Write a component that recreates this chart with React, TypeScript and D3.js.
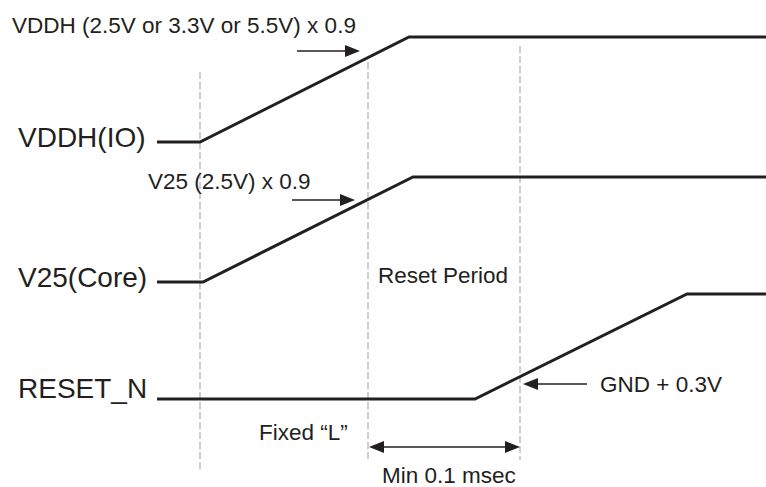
import * as d3 from "d3";

// Signal rows and their waveforms (time units, level 0 = low / 1 = high)
const signalNames = ["VDDH(IO)", "V25(Core)", "RESET_N"];
const rowLow = [142, 282, 399];
const waveforms: [number, number][][] = [
  [[0, 0], [43, 0], [252, 1], [609, 1]],
  [[0, 0], [46, 0], [256, 1], [609, 1]],
  [[0, 0], [318, 0], [530, 1], [609, 1]],
];

// dashed timing markers: [time, top, bottom]
const markers: [number, number, number][] = [
  [43, 72, 472],
  [211, 62, 460],
  [363, 46, 460],
];

const W = 766;
const H = 487;

export default function App() {
  const x = d3.scaleLinear().domain([0, 609]).range([157, 766]);
  const lvl = d3.scaleLinear().domain([0, 1]).range([0, -105]);

  const line = (row: number) =>
    d3
      .line<[number, number]>()
      .x((d) => x(d[0]))
      .y((d) => rowLow[row] + lvl(d[1]));

  const font = "'Liberation Sans', Arial, Helvetica, sans-serif";
  const ink = "#231f20";

  // arrow head triangle pointing in direction dir (+1 right, -1 left), tip at (tx, ty)
  const head = (tx: number, ty: number, dir: number, len = 15, half = 6) =>
    `M${tx},${ty}L${tx - dir * len},${ty - half}L${tx - dir * len},${ty + half}Z`;

  return (
    <div style={{ position: "absolute", left: 0, top: 0 }}>
      <svg width={W} height={H} style={{ display: "block", background: "#fff" }}>
        {/* dashed markers */}
        {markers.map(([t, y1, y2], i) => (
          <line
            key={"m" + i}
            x1={x(t)}
            x2={x(t)}
            y1={y1}
            y2={y2}
            stroke="#9d9d9d"
            strokeWidth={1}
            strokeDasharray="7,3"
          />
        ))}

        {/* waveforms */}
        {waveforms.map((w, i) => (
          <path
            key={"w" + i}
            d={line(i)(w) || ""}
            fill="none"
            stroke={ink}
            strokeWidth={3}
            strokeLinejoin="miter"
          />
        ))}

        {/* signal labels */}
        <g fontFamily={font} fontSize={28} fill={ink}>
          <text x={18} y={147}>{signalNames[0]}</text>
          <text x={18} y={287}>{signalNames[1]}</text>
          <text x={18} y={398}>{signalNames[2]}</text>
        </g>

        {/* annotations */}
        <g fontFamily={font} fontSize={22.5} fill={ink}>
          <text x={12} y={33}>VDDH (2.5V or 3.3V or 5.5V) x 0.9</text>
          <text x={148} y={189}>V25 (2.5V) x 0.9</text>
          <text x={378} y={283}>Reset Period</text>
          <text x={600} y={392}>GND + 0.3V</text>
          <text x={259} y={440}>Fixed “L”</text>
          <text x={382} y={483}>Min 0.1 msec</text>
        </g>

        {/* arrows */}
        <g stroke={ink} strokeWidth={1.4} fill={ink}>
          <line x1={297} x2={348} y1={51} y2={51} />
          <path d={head(360, 51, 1)} stroke="none" />
          <line x1={292} x2={343} y1={200} y2={200} />
          <path d={head(355, 200, 1)} stroke="none" />
          <line x1={535} x2={587} y1={384} y2={384} />
          <path d={head(523, 384, -1)} stroke="none" />
          <line x1={380} x2={508} y1={447} y2={447} />
          <path d={head(369, 447, -1)} stroke="none" />
          <path d={head(520, 447, 1)} stroke="none" />
        </g>
      </svg>
    </div>
  );
}
